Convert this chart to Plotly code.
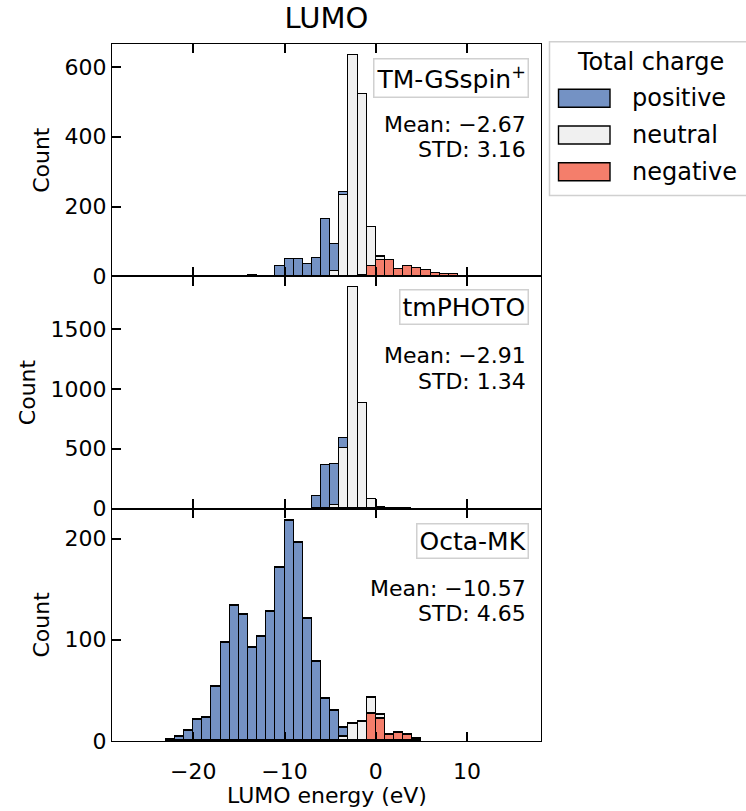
import plotly.graph_objects as go
from plotly.subplots import make_subplots

# ---------------- data ----------------
# histogram bin left edges (eV), bin width 1 eV
bins_tm = list(range(-15, 17))
pos_tm = [2, 5, 0, 2, 29, 51, 51, 36, 53, 163, 80, 8, 0, 0, 0, 3, 0, 0, 0, 0, 0, 0, 0, 0, 0, 0, 0, 0, 0, 0, 0, 0]
neu_tm = [0, 0, 0, 0, 0, 0, 0, 0, 0, 0, 14, 234, 634, 520, 112, 9, 0, 0, 0, 0, 0, 0, 0, 0, 0, 0, 0, 0, 0, 0, 0, 0]
neg_tm = [0, 0, 0, 0, 0, 0, 0, 0, 0, 0, 0, 0, 0, 3, 29, 47, 48, 20, 29, 25, 17, 11, 8, 7, 1, 0, 2, 0, 2, 0, 2, 2]

bins_tp = list(range(-7, 4))
pos_tp = [106, 365, 344, 85, 0, 0, 0, 0, 0, 0, 0]
neu_tp = [0, 0, 30, 500, 1848, 878, 75, 8, 3, 2, 1]
neg_tp = [0, 0, 0, 0, 0, 0, 0, 0, 0, 0, 0]

bins_oc = list(range(-23, 5))
pos_oc = [1, 4, 10, 21, 23, 54, 97, 134, 125, 92, 103, 128, 171, 218, 196, 121, 78, 42, 30, 9, 0, 0, 0, 0, 0, 0, 0, 0]
neu_oc = [0, 0, 0, 0, 0, 0, 0, 0, 0, 0, 0, 0, 0, 0, 0, 0, 0, 0, 0, 4, 17, 19, 16, 4, 0, 0, 0, 0]
neg_oc = [0, 0, 0, 0, 0, 0, 0, 0, 0, 0, 0, 0, 0, 0, 0, 0, 0, 0, 0, 0, 0, 0, 27, 22, 6, 8, 6, 2]

datasets = ["TM-GSspin<sup>+</sup>", "tmPHOTO", "Octa-MK"]
means = ["−2.67", "−2.91", "−10.57"]
stds = ["3.16", "1.34", "4.65"]
categories = ["positive", "neutral", "negative"]

y_ticks = [[0, 200, 400, 600], [0, 500, 1000, 1500], [0, 100, 200]]
y_ranges = [[0, 666], [0, 1940], [0, 229.5]]
x_ticks = [-20, -10, 0, 10]
x_range = [-28.9, 18.1]

colors = {"positive": "#7492c4", "neutral": "#f0f0f0", "negative": "#f47e6b"}
FONT = "DejaVu Sans"
FS = 22
LFS = 24

panels = [
    (bins_tm, {"positive": pos_tm, "neutral": neu_tm, "negative": neg_tm}),
    (bins_tp, {"positive": pos_tp, "neutral": neu_tp, "negative": neg_tp}),
    (bins_oc, {"positive": pos_oc, "neutral": neu_oc, "negative": neg_oc}),
]

# figure geometry (pixels)
W, H = 746, 811
L, R, T, B = 112, 541, 44, 741


def px_x(p):
    return (p - L) / (R - L)


def px_y(p):
    return (B - p) / (B - T)


fig = make_subplots(rows=3, cols=1, shared_xaxes=True, vertical_spacing=0)

for i, (bins, series) in enumerate(panels):
    centers = [b + 0.5 for b in bins]
    # stacking bottom-up: negative, neutral, positive
    for cat in ["negative", "neutral", "positive"]:
        fig.add_trace(
            go.Bar(
                x=centers, y=series[cat], width=1.0, name=cat,
                marker=dict(color=colors[cat], line=dict(color="black", width=1.4)),
                showlegend=False,
            ),
            row=i + 1, col=1,
        )

fig.update_layout(
    barmode="stack",
    width=W, height=H,
    margin=dict(l=L, r=W - R, t=T, b=H - B, autoexpand=False),
    paper_bgcolor="white", plot_bgcolor="white",
    font=dict(family=FONT, size=FS, color="black"),
    title=dict(text="LUMO", x=0.5, xref="paper", xanchor="center", y=0.978, yanchor="middle",
               font=dict(size=29)),
    bargap=0,
)

for i in range(3):
    r = i + 1
    fig.update_yaxes(
        row=r, col=1, range=y_ranges[i], tickvals=y_ticks[i],
        ticks="inside", ticklen=9, tickwidth=1.5, tickcolor="black",
        showline=True, linecolor="black", linewidth=1.4, mirror=True,
        showgrid=False, zeroline=False,
        title=dict(text="Count", standoff=8, font=dict(size=FS)),
        tickfont=dict(size=FS),
    )
    fig.update_xaxes(
        row=r, col=1, range=x_range, tickvals=x_ticks,
        ticks="inside", ticklen=9, tickwidth=1.5, tickcolor="black",
        showline=True, linecolor="black", linewidth=1.4, mirror="ticks",
        showgrid=False, zeroline=False, showticklabels=(r == 3),
        tickfont=dict(size=FS),
    )
fig.update_xaxes(row=3, col=1, ticklabelstandoff=10)

# x-axis title placed as an annotation for exact vertical placement
fig.add_annotation(text="LUMO energy (eV)", xref="paper", yref="paper",
                   x=0.5, y=px_y(795), xanchor="center", yanchor="middle",
                   showarrow=False, font=dict(size=FS))

label_top = [0.94, 0.944, 0.94]
mean_y = [0.652, 0.659, 0.655]
std_y = [0.545, 0.547, 0.547]
axnames = ["", "2", "3"]
for i in range(3):
    xr = "x%s domain" % axnames[i]
    yr = "y%s domain" % axnames[i]
    fig.add_annotation(
        text=datasets[i], xref=xr, yref=yr, x=0.972, y=label_top[i],
        xanchor="right", yanchor="top", showarrow=False,
        bordercolor="#d0d0d0", borderwidth=1.5, borderpad=2, bgcolor="white",
        font=dict(size=25),
    )
    fig.add_annotation(
        text="Mean: " + means[i], xref=xr, yref=yr, x=0.970, y=mean_y[i],
        xanchor="right", yanchor="middle", showarrow=False, font=dict(size=FS),
    )
    fig.add_annotation(
        text="STD: " + stds[i], xref=xr, yref=yr, x=0.970, y=std_y[i],
        xanchor="right", yanchor="middle", showarrow=False, font=dict(size=FS),
    )

# ---------------- manual legend (pixel layout) ----------------
fig.add_shape(type="rect", xref="paper", yref="paper",
              x0=px_x(549.5), x1=px_x(752), y0=px_y(195.5), y1=px_y(41.7),
              line=dict(color="#d0d0d0", width=1.5), fillcolor="white", layer="above")
fig.add_annotation(text="Total charge", xref="paper", yref="paper",
                   x=px_x(650), y=px_y(62), xanchor="center", yanchor="middle",
                   showarrow=False, font=dict(size=LFS))
leg_rows = [98.3, 135.0, 171.7]
for cat, yc in zip(categories, leg_rows):
    fig.add_shape(type="rect", xref="paper", yref="paper",
                  x0=px_x(558.5), x1=px_x(610), y0=px_y(yc + 9), y1=px_y(yc - 9),
                  line=dict(color="black", width=1.4), fillcolor=colors[cat], layer="above")
    fig.add_annotation(text=cat, xref="paper", yref="paper",
                       x=px_x(630), y=px_y(yc), xanchor="left", yanchor="middle",
                       showarrow=False, font=dict(size=LFS))

fig.write_html("out.html")
